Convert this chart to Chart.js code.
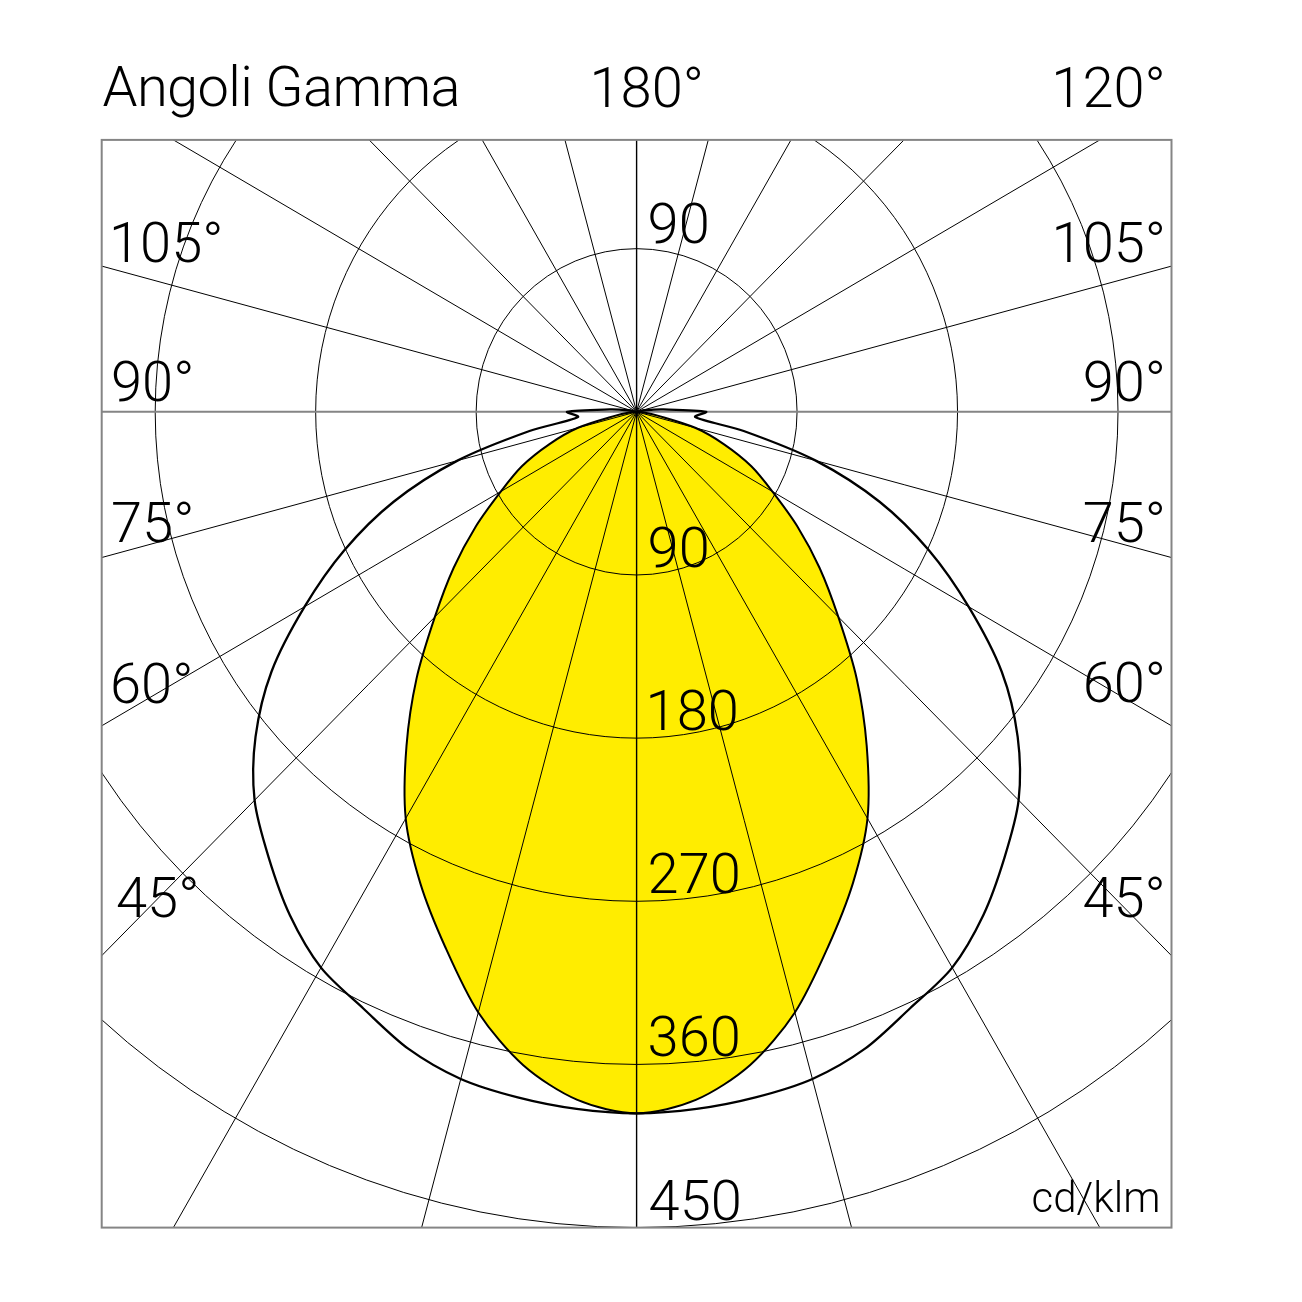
<!DOCTYPE html>
<html>
<head>
<meta charset="utf-8">
<title>Angoli Gamma</title>
<script src="https://cdn.jsdelivr.net/npm/chart.js@4.4.1/dist/chart.umd.min.js"></script>
<style>
  html, body { margin: 0; padding: 0; background: #fff; }
  #wrap { width: 1302px; height: 1302px; }
</style>
</head>
<body>
<div id="wrap"><canvas id="myChart" width="1302" height="1302"></canvas></div>
<script>
// gamma angles (deg) and luminous intensity (cd/klm)
const gammaAngles = [0, 5, 10, 15, 20, 25, 30, 35, 40, 45, 50, 55, 60, 65, 70, 75, 80, 85, 90,
  95, 100, 105, 110, 115, 120, 125, 130, 135, 140, 145, 150, 155, 160, 165, 170, 175, 180];
const planeC0C180 = [387, 381, 366, 343, 314, 287, 259, 225, 192, 160, 134, 110, 88, 71, 52, 34, 12, 4, 0,
  0, 0, 0, 0, 0, 0, 0, 0, 0, 0, 0, 0, 0, 0, 0, 0, 0, 0];
const planeC90C270 = [387, 386, 384, 381, 374, 363, 354, 339, 321, 303, 279, 250, 215, 181, 145, 104, 61, 33, 39,
  15, 5, 0, 0, 0, 0, 0, 0, 0, 0, 0, 0, 0, 0, 0, 0, 0, 0];

const intensityTicks = [90, 180, 270, 360, 450];
const sideAngleLabels = ['105°', '90°', '75°', '60°', '45°'];
const topAngleLabels = ['180°', '120°'];
const gridStep = 15;

const YELLOW = '#ffed00';
const FONT = '300 56px Roboto, "Liberation Sans", sans-serif';

// both halves of a plane, mirrored round the vertical axis
function planePoints(values) {
  const pts = [];
  for (let i = gammaAngles.length - 1; i >= 0; i--) {
    const g = gammaAngles[i] * Math.PI / 180;
    pts.push({x: -values[i] * Math.sin(g), y: -values[i] * Math.cos(g)});
  }
  for (let i = 1; i < gammaAngles.length; i++) {
    const g = gammaAngles[i] * Math.PI / 180;
    pts.push({x: values[i] * Math.sin(g), y: -values[i] * Math.cos(g)});
  }
  return pts;
}

function inkText(ctx, str, x, y, side) {
  const m = ctx.measureText(str);
  if (side === 'right') ctx.fillText(str, x - m.actualBoundingBoxRight, y);
  else ctx.fillText(str, x + m.actualBoundingBoxLeft, y);
}

const polarGrid = {
  id: 'polarGrid',
  afterDatasetDraw(chart, args) {
    if (args.index !== 2) return;
    const {ctx, chartArea: a, scales: {x, y}} = chart;
    const cx = x.getPixelForValue(0), cy = y.getPixelForValue(0);
    ctx.save();
    ctx.beginPath();
    ctx.rect(a.left, a.top, a.right - a.left, a.bottom - a.top);
    ctx.clip();

    ctx.strokeStyle = '#000';
    ctx.lineWidth = 1;
    intensityTicks.forEach(v => {
      const rx = x.getPixelForValue(v) - cx;
      const ry = cy - y.getPixelForValue(v);
      ctx.beginPath();
      ctx.ellipse(cx, cy, rx, ry, 0, 0, Math.PI * 2);
      ctx.stroke();
    });

    for (let g = 0; g < 360; g += gridStep) {
      const t = g * Math.PI / 180;
      const ex = x.getPixelForValue(1000 * Math.sin(t));
      const ey = y.getPixelForValue(-1000 * Math.cos(t));
      if (g === 90 || g === 270) { ctx.strokeStyle = '#858585'; ctx.lineWidth = 2; }
      else if (g === 0 || g === 180) { ctx.strokeStyle = '#000'; ctx.lineWidth = 1.4; }
      else { ctx.strokeStyle = '#000'; ctx.lineWidth = 1; }
      ctx.beginPath();
      ctx.moveTo(cx, cy);
      ctx.lineTo(ex, ey);
      ctx.stroke();
    }
    ctx.restore();
  },
  afterDraw(chart) {
    const {ctx, chartArea: a, scales: {x, y}} = chart;
    ctx.save();
    ctx.strokeStyle = '#858585';
    ctx.lineWidth = 2;
    ctx.strokeRect(a.left, a.top, a.right - a.left, a.bottom - a.top);

    ctx.fillStyle = '#000';
    ctx.textAlign = 'left';
    ctx.textBaseline = 'alphabetic';
    ctx.font = FONT;
    ctx.letterSpacing = '-0.6px';
    inkText(ctx, 'Angoli Gamma', 102.5, 106);
    ctx.letterSpacing = '0px';
    inkText(ctx, topAngleLabels[0], 593.5, 106.5);
    inkText(ctx, topAngleLabels[1], 1162.5, 106.5, 'right');

    const leftBase = [262, 401, 542, 703, 917];
    const rightBase = [261.5, 401, 542, 702, 917];
    sideAngleLabels.forEach((s, i) => {
      inkText(ctx, s, i === 4 ? 117 : 113, leftBase[i]);
      inkText(ctx, s, i === 4 ? 1162.5 : 1162.8, rightBase[i], 'right');
    });

    // intensity values along the vertical axis
    const lx = x.getPixelForValue(0) + 13;
    inkText(ctx, String(intensityTicks[0]), lx, y.getPixelForValue(intensityTicks[0]) - 6);
    intensityTicks.forEach(v => {
      const b = Math.min(y.getPixelForValue(-v) - 8, a.bottom - 6);
      inkText(ctx, String(v), lx, b);
    });

    ctx.font = '300 42px Roboto, "Liberation Sans", sans-serif';
    inkText(ctx, 'cd/klm', 1158.3, 1211.5, 'right');
    ctx.restore();
  }
};

const config = {
  type: 'scatter',
  data: {
    datasets: [
      {
        label: 'C90-C270',
        data: planePoints(planeC90C270),
        showLine: true,
        borderColor: '#000',
        borderWidth: 2.3,
        pointRadius: 0,
        tension: 0.3,
        fill: false,
      },
      {
        label: 'C0-C180',
        data: planePoints(planeC0C180),
        showLine: true,
        borderColor: '#000',
        borderWidth: 2,
        pointRadius: 0,
        tension: 0.3,
        fill: false,
      },
      {
        label: 'C0-C180 area',
        data: planePoints(planeC0C180),
        showLine: true,
        borderColor: 'rgba(0,0,0,0)',
        borderWidth: 0,
        backgroundColor: YELLOW,
        pointRadius: 0,
        tension: 0.3,
        fill: 'shape',
      },
    ],
  },
  options: {
    responsive: false,
    animation: false,
    events: [],
    layout: {padding: {left: 101.7, top: 139.9, right: 130.5, bottom: 74.4}},
    scales: {
      x: {type: 'linear', min: -300, max: 300, display: false},
      y: {type: 'linear', min: -450, max: 150, display: false},
    },
    plugins: {
      legend: {display: false},
      tooltip: {enabled: false},
    },
  },
  plugins: [polarGrid],
};

const myChart = new Chart(document.getElementById('myChart'), config);
</script>
</body>
</html>
